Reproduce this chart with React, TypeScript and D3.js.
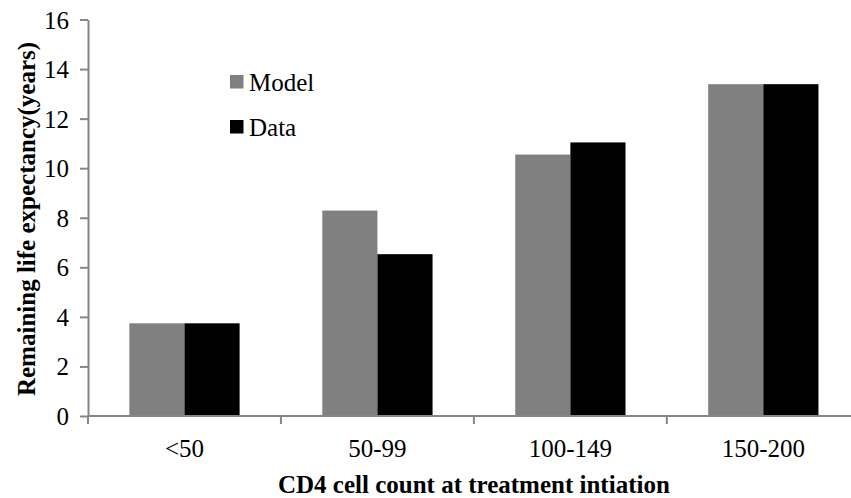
import { useRef, useEffect } from "react";
import * as d3 from "d3";

const categories = ["<50", "50-99", "100-149", "150-200"];
const seriesNames = ["Model", "Data"];
const modelValues = [3.74, 8.29, 10.55, 13.39];
const dataValues = [3.74, 6.53, 11.04, 13.39];
const yTicks = [0, 2, 4, 6, 8, 10, 12, 14, 16];
const colors = ["#808080", "#000000"];

export default function App() {
  const ref = useRef<SVGSVGElement | null>(null);

  useEffect(() => {
    if (!ref.current) return;

    const width = 851;
    const height = 498;
    const left = 88;
    const right = 859.8;
    const bottom = 416;
    const top = 19.5;
    const font = "'Liberation Serif', 'Times New Roman', serif";
    const axisColor = "#868686";

    const root = d3.select(ref.current);
    root.selectAll("*").remove();
    root.attr("width", width).attr("height", height);

    const x0 = d3.scaleBand<string>().domain(categories).range([left, right]).padding(0);
    const x1 = d3
      .scaleBand<string>()
      .domain(seriesNames)
      .range([0, x0.bandwidth()])
      .paddingInner(0)
      .paddingOuter(0.75);
    const y = d3.scaleLinear().domain([0, 16]).range([bottom, top]);

    const values = [modelValues, dataValues];

    // bars
    seriesNames.forEach((s, si) => {
      root
        .append("g")
        .selectAll("rect")
        .data(categories)
        .join("rect")
        .attr("x", (c) => (x0(c) as number) + (x1(s) as number))
        .attr("y", (_c, i) => y(values[si][i]))
        .attr("width", x1.bandwidth())
        .attr("height", (_c, i) => bottom - y(values[si][i]))
        .attr("fill", colors[si]);
    });

    // y axis
    const yAxis = root
      .append("g")
      .attr("transform", `translate(${left},0)`)
      .call(d3.axisLeft(y).tickValues(yTicks).tickSize(8).tickPadding(11).tickSizeOuter(0));
    yAxis.select(".domain").attr("stroke", axisColor).attr("stroke-width", 2);
    yAxis.selectAll(".tick line").attr("stroke", axisColor).attr("stroke-width", 2);
    yAxis
      .selectAll(".tick text")
      .attr("fill", "#000")
      .attr("font-family", font)
      .attr("font-size", 25)
      .attr("dy", "0.34em");

    // x axis line + boundary ticks
    const xg = root.append("g");
    xg.append("line")
      .attr("x1", left)
      .attr("x2", right)
      .attr("y1", bottom)
      .attr("y2", bottom)
      .attr("stroke", axisColor)
      .attr("stroke-width", 2);
    const bounds = categories.map((c) => x0(c) as number).concat([right]);
    xg.selectAll("line.tk")
      .data(bounds)
      .join("line")
      .attr("class", "tk")
      .attr("x1", (d) => d)
      .attr("x2", (d) => d)
      .attr("y1", bottom)
      .attr("y2", bottom + 8)
      .attr("stroke", axisColor)
      .attr("stroke-width", 2);
    xg.selectAll("text")
      .data(categories)
      .join("text")
      .attr("x", (c) => (x0(c) as number) + x0.bandwidth() / 2)
      .attr("y", 456.5)
      .attr("text-anchor", "middle")
      .attr("font-family", font)
      .attr("font-size", 25)
      .text((c) => c);

    // axis titles
    root
      .append("text")
      .attr("x", (left + right) / 2)
      .attr("y", 493)
      .attr("text-anchor", "middle")
      .attr("font-family", font)
      .attr("font-size", 25)
      .attr("font-weight", "bold")
      .text("CD4 cell count at treatment intiation");

    root
      .append("text")
      .attr("transform", `translate(35,219) rotate(-90)`)
      .attr("text-anchor", "middle")
      .attr("font-family", font)
      .attr("font-size", 25)
      .attr("font-weight", "bold")
      .text("Remaining life expectancy(years)");

    // legend
    const legend = root.append("g");
    seriesNames.forEach((s, i) => {
      const ly = 75 + i * 45;
      legend
        .append("rect")
        .attr("x", 230)
        .attr("y", ly)
        .attr("width", 13.5)
        .attr("height", 13.5)
        .attr("fill", colors[i]);
      legend
        .append("text")
        .attr("x", 249)
        .attr("y", ly + 15.7)
        .attr("font-family", font)
        .attr("font-size", 25)
        .text(s);
    });
  }, []);

  return (
    <svg
      ref={ref}
      style={{ position: "absolute", left: 0, top: 0, display: "block", background: "#fff" }}
    />
  );
}
